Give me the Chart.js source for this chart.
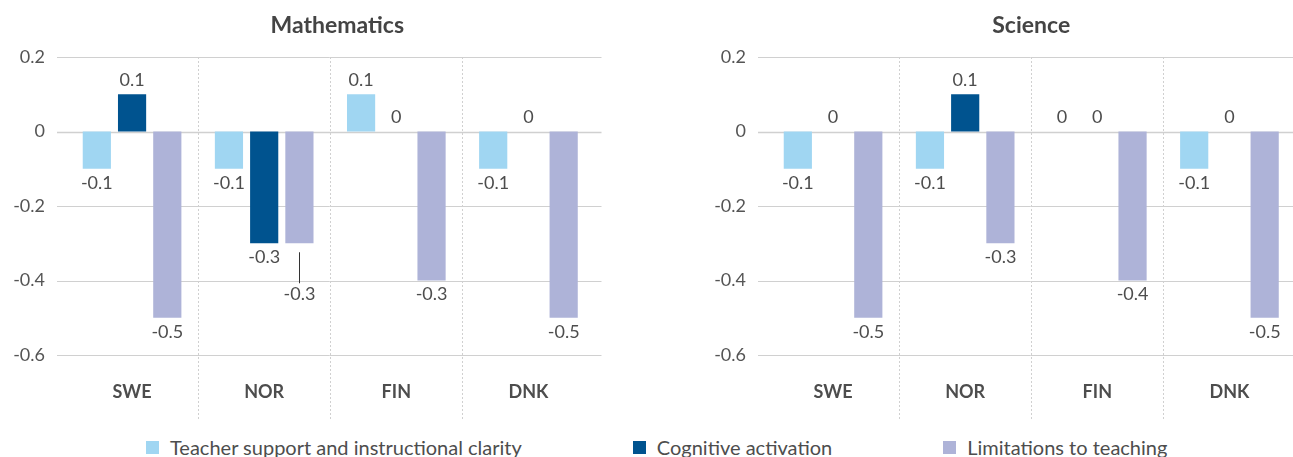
<!DOCTYPE html>
<html>
<head>
<meta charset="utf-8">
<script src="https://cdn.jsdelivr.net/npm/chart.js@4/dist/chart.umd.min.js"></script>
<style>
  html, body { margin: 0; padding: 0; background: #fff; }
  body { width: 1293px; height: 457px; position: relative; overflow: hidden; font-family: Lato, sans-serif; }
  #mathChart { position: absolute; left: 0; top: 0; }
  #sciChart { position: absolute; left: 701px; top: 0; }
  #legend { position: absolute; left: 146px; top: 437px; display: flex; gap: 111px; font-size: 20px; line-height: 20px; color: #4d4d4d; white-space: nowrap; }
  #legend .item { display: flex; align-items: center; }
  #legend .box { width: 13px; height: 13px; margin-right: 11px; }
</style>
</head>
<body>
<canvas id="mathChart" width="700" height="425"></canvas>
<canvas id="sciChart" width="700" height="425"></canvas>
<div id="legend"></div>
<script>
// Données
const countries = ['SWE', 'NOR', 'FIN', 'DNK'];
const seriesNames = ['Teacher support and instructional clarity', 'Cognitive activation', 'Limitations to teaching'];
const seriesColors = ['#a0d6f2', '#00538f', '#aeb3d8'];
const yTicks = [0.2, 0, -0.2, -0.4, -0.6];

// Mathematics
const mathTeacher = [-0.1, -0.1, 0.1, -0.1];
const mathCognitive = [0.1, -0.3, 0, 0];
const mathLimitations = [-0.5, -0.3, -0.4, -0.5];
const mathTeacherLabels = ['-0.1', '-0.1', '0.1', '-0.1'];
const mathCognitiveLabels = ['0.1', '-0.3', '0', '0'];
const mathLimitationsLabels = ['-0.5', '-0.3', '-0.3', '-0.5'];

// Science
const sciTeacher = [-0.1, -0.1, 0, -0.1];
const sciCognitive = [0, 0.1, 0, 0];
const sciLimitations = [-0.5, -0.3, -0.4, -0.5];
const sciTeacherLabels = ['-0.1', '-0.1', '0', '-0.1'];
const sciCognitiveLabels = ['0', '0.1', '0', '0'];
const sciLimitationsLabels = ['-0.5', '-0.3', '-0.4', '-0.5'];

const textColor = '#4d4d4d';
const gridColor = '#d0d0d0';

// Mřížka a oddělovače kategorií
const gridPlugin = {
    id: 'customGrid',
    beforeDatasetsDraw(chart) {
        const ctx = chart.ctx;
        const area = chart.chartArea;
        const y = chart.scales.y;
        const x = chart.scales.x;
        ctx.save();
        ctx.strokeStyle = gridColor;
        yTicks.forEach(t => {
            const py = Math.round(y.getPixelForValue(t)) + 0.5;
            ctx.lineWidth = t === 0 ? 1.5 : 1;
            ctx.beginPath();
            ctx.moveTo(area.left - 9, py);
            ctx.lineTo(area.right + 7, py);
            ctx.stroke();
        });
        ctx.setLineDash([2, 2]);
        ctx.lineWidth = 1;
        for (let i = 0; i < countries.length - 1; i++) {
            const px = Math.round((x.getPixelForValue(i) + x.getPixelForValue(i + 1)) / 2) + 0.5;
            ctx.beginPath();
            ctx.moveTo(px, area.top);
            ctx.lineTo(px, area.bottom + 65);
            ctx.stroke();
        }
        ctx.restore();
    }
};

// Popisky hodnot a nadpis
const labelPlugin = {
    id: 'valueLabels',
    afterDatasetsDraw(chart, args, opts) {
        const ctx = chart.ctx;
        const area = chart.chartArea;
        ctx.save();
        ctx.font = '18px Lato';
        ctx.fillStyle = textColor;
        ctx.textAlign = 'center';
        ctx.textBaseline = 'middle';
        chart.data.datasets.forEach((ds, di) => {
            const meta = chart.getDatasetMeta(di);
            meta.data.forEach((bar, i) => {
                const v = ds.data[i];
                let py = v >= 0 ? bar.y - 14 : bar.y + 14;
                const lead = opts.leader;
                if (lead && lead.dataset === di && lead.index === i) {
                    ctx.strokeStyle = '#333';
                    ctx.lineWidth = 1;
                    ctx.beginPath();
                    ctx.moveTo(Math.round(bar.x) + 0.5, bar.y + 9);
                    ctx.lineTo(Math.round(bar.x) + 0.5, bar.y + 40);
                    ctx.stroke();
                    py += lead.extra;
                }
                ctx.fillText(ds.valueLabels[i], bar.x, py);
            });
        });
        ctx.font = 'bold 23px Lato';
        ctx.fillStyle = '#444';
        ctx.fillText(opts.title, (area.left + area.right) / 2 + opts.titleShift, 26);
        ctx.restore();
    }
};

function makeChart(id, title, values, labels, leader, titleShift) {
    return new Chart(document.getElementById(id), {
        type: 'bar',
        data: {
            labels: countries,
            datasets: values.map((vals, k) => ({
                label: seriesNames[k],
                data: vals,
                valueLabels: labels[k],
                backgroundColor: seriesColors[k],
                borderWidth: 0,
                categoryPercentage: 0.8,
                barPercentage: 0.8
            }))
        },
        options: {
            responsive: false,
            animation: false,
            layout: { padding: { top: 57, right: 105.5, left: 0, bottom: 0 } },
            plugins: {
                legend: { display: false },
                tooltip: { enabled: false },
                valueLabels: { title: title, leader: leader, titleShift: titleShift }
            },
            scales: {
                x: {
                    grid: { display: false },
                    border: { display: false },
                    ticks: { color: textColor, font: { family: 'Lato', size: 18, weight: 'bold' }, padding: 18 },
                    afterFit: s => { s.height = 70; }
                },
                y: {
                    min: -0.6,
                    max: 0.2,
                    grid: { display: false, drawTicks: false },
                    border: { display: false },
                    afterBuildTicks: s => { s.ticks = yTicks.map(v => ({ value: v })); },
                    ticks: {
                        color: '#555',
                        font: { family: 'Lato', size: 18 },
                        padding: 21,
                        callback: v => String(Math.round(v * 10) / 10)
                    },
                    afterFit: s => { s.width = 66; }
                }
            }
        },
        plugins: [gridPlugin, labelPlugin]
    });
}

function buildLegend() {
    const legend = document.getElementById('legend');
    seriesNames.forEach((name, k) => {
        const item = document.createElement('div');
        item.className = 'item';
        item.innerHTML = `<span class="box" style="background:${seriesColors[k]}"></span><span>${name}</span>`;
        legend.appendChild(item);
    });
}

document.fonts.load('16px Lato').then(() => document.fonts.load('bold 16px Lato')).finally(() => {
    makeChart('mathChart', 'Mathematics',
        [mathTeacher, mathCognitive, mathLimitations],
        [mathTeacherLabels, mathCognitiveLabels, mathLimitationsLabels],
        { dataset: 2, index: 1, extra: 37 }, 7);
    makeChart('sciChart', 'Science',
        [sciTeacher, sciCognitive, sciLimitations],
        [sciTeacherLabels, sciCognitiveLabels, sciLimitationsLabels],
        null, 0);
    buildLegend();
});
</script>
</body>
</html>
